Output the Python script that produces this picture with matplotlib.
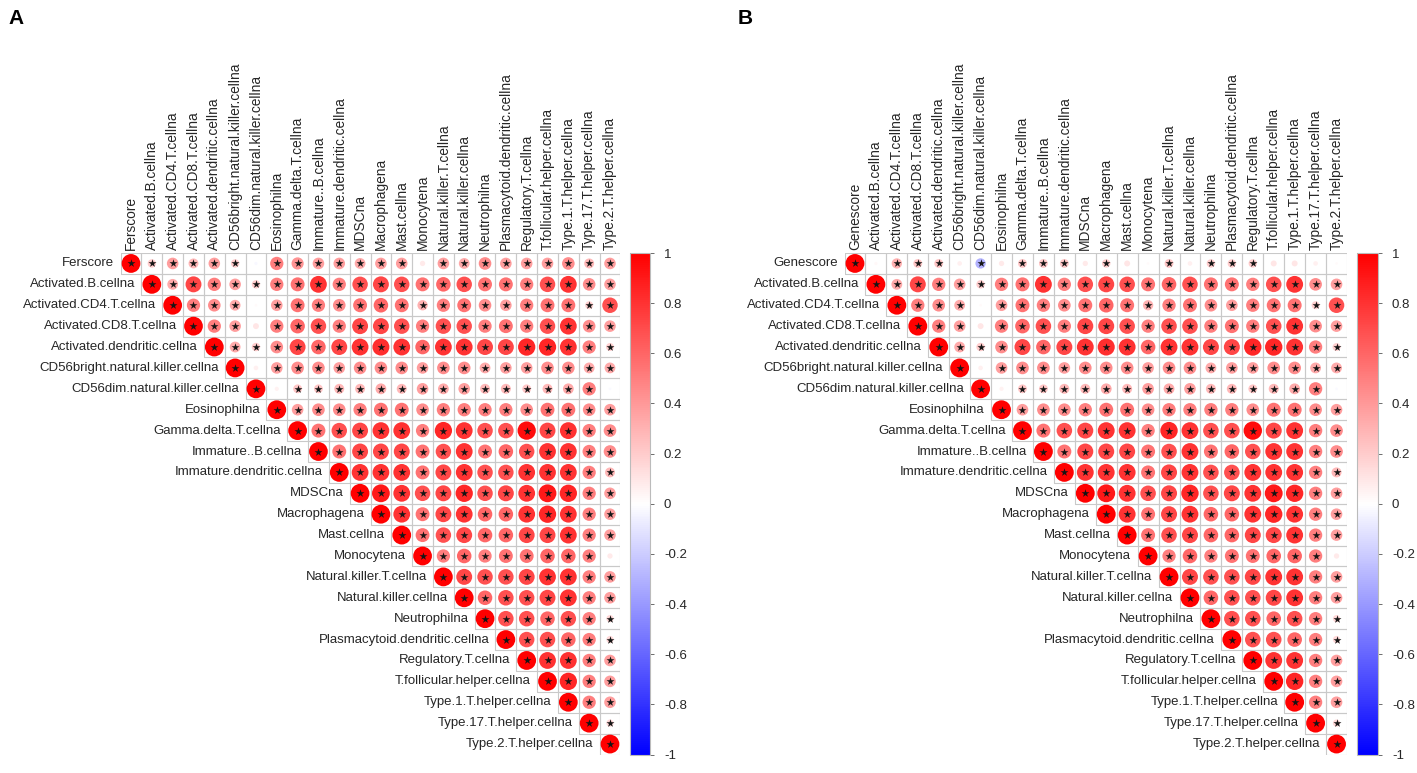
import numpy as np
import matplotlib
matplotlib.use("Agg")
import matplotlib.pyplot as plt
from matplotlib.colors import LinearSegmentedColormap, Normalize
from matplotlib.patches import Circle, Rectangle
from matplotlib.collections import PatchCollection
from matplotlib.cm import ScalarMappable

plt.rcParams['font.family'] = ['Liberation Sans', 'DejaVu Sans']

# variable names (first one is the score, differs per panel)
cells = ["Activated.B.cellna", "Activated.CD4.T.cellna", "Activated.CD8.T.cellna",
         "Activated.dendritic.cellna", "CD56bright.natural.killer.cellna",
         "CD56dim.natural.killer.cellna", "Eosinophilna", "Gamma.delta.T.cellna",
         "Immature..B.cellna", "Immature.dendritic.cellna", "MDSCna", "Macrophagena",
         "Mast.cellna", "Monocytena", "Natural.killer.T.cellna", "Natural.killer.cellna",
         "Neutrophilna", "Plasmacytoid.dendritic.cellna", "Regulatory.T.cellna",
         "T.follicular.helper.cellna", "Type.1.T.helper.cellna", "Type.17.T.helper.cellna",
         "Type.2.T.helper.cellna"]

# correlation of the score with each cell type
ferscore = [0.2, 0.38, 0.28, 0.38, 0.2, -0.03, 0.5, 0.42, 0.38, 0.38, 0.33, 0.38,
            0.38, 0.08, 0.38, 0.33, 0.45, 0.38, 0.38, 0.38, 0.45, 0.28, 0.38]
genescore = [0.03, 0.3, 0.22, 0.22, 0.06, -0.3, 0.08, 0.22, 0.22, 0.22, 0.08, 0.2,
             0.1, 0.02, 0.22, 0.06, 0.2, 0.2, 0.2, 0.1, 0.1, 0.06, 0.02]

# upper triangle of the cell-cell correlations, row i -> columns i+1..end
cell_upper = [
    [0.33, 0.72, 0.5, 0.38, 0.2, 0.5, 0.55, 0.8, 0.5, 0.68, 0.72, 0.68, 0.55, 0.6, 0.68, 0.55, 0.55, 0.5, 0.68, 0.8, 0.45, 0.38],
    [0.5, 0.45, 0.33, 0.02, 0.38, 0.55, 0.5, 0.45, 0.55, 0.6, 0.55, 0.3, 0.5, 0.55, 0.45, 0.38, 0.5, 0.55, 0.55, 0.18, 0.68],
    [0.5, 0.38, 0.1, 0.5, 0.6, 0.68, 0.5, 0.72, 0.72, 0.68, 0.5, 0.68, 0.68, 0.5, 0.55, 0.5, 0.68, 0.8, 0.45, 0.38],
    [0.33, 0.2, 0.45, 0.72, 0.6, 0.72, 0.8, 0.82, 0.8, 0.6, 0.8, 0.8, 0.72, 0.72, 0.85, 0.85, 0.8, 0.5, 0.18],
    [0.06, 0.38, 0.45, 0.45, 0.38, 0.45, 0.45, 0.45, 0.38, 0.45, 0.45, 0.33, 0.38, 0.38, 0.45, 0.45, 0.33, 0.33],
    [0.05, 0.22, 0.22, 0.28, 0.28, 0.33, 0.28, 0.38, 0.33, 0.38, 0.28, 0.28, 0.22, 0.28, 0.33, 0.5, -0.02],
    [0.38, 0.45, 0.45, 0.5, 0.55, 0.55, 0.45, 0.5, 0.5, 0.5, 0.5, 0.45, 0.55, 0.55, 0.45, 0.38],
    [0.55, 0.68, 0.72, 0.8, 0.8, 0.5, 0.85, 0.8, 0.68, 0.68, 0.95, 0.72, 0.8, 0.5, 0.45],
    [0.55, 0.72, 0.72, 0.72, 0.55, 0.68, 0.8, 0.55, 0.6, 0.68, 0.8, 0.8, 0.5, 0.45],
    [0.8, 0.8, 0.8, 0.55, 0.72, 0.8, 0.68, 0.68, 0.8, 0.8, 0.8, 0.5, 0.28],
    [0.9, 0.8, 0.68, 0.72, 0.85, 0.68, 0.72, 0.8, 0.9, 0.85, 0.5, 0.38],
    [0.8, 0.55, 0.72, 0.8, 0.6, 0.6, 0.8, 0.85, 0.8, 0.5, 0.38],
    [0.55, 0.68, 0.72, 0.6, 0.6, 0.72, 0.72, 0.8, 0.5, 0.38],
    [0.5, 0.6, 0.5, 0.55, 0.55, 0.6, 0.6, 0.5, 0.08],
    [0.72, 0.68, 0.68, 0.72, 0.8, 0.8, 0.5, 0.38],
    [0.6, 0.68, 0.68, 0.72, 0.8, 0.5, 0.38],
    [0.68, 0.68, 0.6, 0.68, 0.5, 0.15],
    [0.68, 0.68, 0.6, 0.5, 0.15],
    [0.8, 0.8, 0.5, 0.38],
    [0.85, 0.5, 0.38],
    [0.5, 0.38],
    [0.15],
]

cbar_ticks = [1, 0.8, 0.6, 0.4, 0.2, 0, -0.2, -0.4, -0.6, -0.8, -1]

cmap = LinearSegmentedColormap.from_list("bwr_cp", ["#0000FF", "#FFFFFF", "#FF0000"])
norm = Normalize(-1, 1)

W, H = 1417, 773
fig = plt.figure(figsize=(W / 100, H / 100), dpi=100)


def px_axes(x0, y0, x1, y1):
    return fig.add_axes([x0 / W, 1 - y1 / H, (x1 - x0) / W, (y1 - y0) / H])


def build_matrix(score):
    n = len(cells) + 1
    m = np.eye(n)
    m[0, 1:] = score
    for i, row in enumerate(cell_upper):
        m[i + 1, i + 2:] = row
    return m


def corr_panel(ax, names, mat):
    n = len(names)
    ax.set_xlim(-0.5, n - 0.5)
    ax.set_ylim(n - 0.5, -0.5)
    ax.axis('off')
    circles, cols, grid = [], [], []
    sx, sy = [], []
    for i in range(n):
        for j in range(i, n):
            r = mat[i, j]
            grid.append(Rectangle((j - 0.5, i - 0.5), 1, 1))
            circles.append(Circle((j, i), 0.45 * np.sqrt(abs(r))))
            cols.append(cmap(norm(r)))
            if abs(r) > 0.12:
                sx.append(j)
                sy.append(i)
    ax.add_collection(PatchCollection(grid, facecolor='none', edgecolor='#c9c9c9', lw=0.8))
    ax.add_collection(PatchCollection(circles, facecolor=cols, edgecolor='none'))
    ax.scatter(sx, sy, marker='*', s=36, c='#151515', lw=0, zorder=3)
    for i, name in enumerate(names):
        ax.text(i - 0.8, i, name, ha='right', va='center', fontsize=9.5, color='#262626')
        ax.text(i, -0.65, name, ha='center', va='bottom', rotation=90, fontsize=9.9,
                color='#262626')


def color_bar(cax):
    cb = fig.colorbar(ScalarMappable(norm=norm, cmap=cmap), cax=cax, ticks=cbar_ticks)
    cb.ax.set_yticklabels(['%g' % t for t in cbar_ticks])
    cb.ax.tick_params(labelsize=9.5, length=3, width=0.6, color='#555555', pad=7,
                      labelcolor='#262626')
    cb.outline.set_edgecolor('#bbbbbb')
    cb.outline.set_linewidth(0.8)


axA = px_axes(120.6, 253, 620.4, 754.5)
corr_panel(axA, ["Ferscore"] + cells, build_matrix(ferscore))
color_bar(px_axes(630, 253, 650, 754.5))

axB = px_axes(844.5, 253, 1347, 754.5)
corr_panel(axB, ["Genescore"] + cells, build_matrix(genescore))
color_bar(px_axes(1357, 253, 1378, 754.5))

fig.text(8 / W, 1 - 19 / H, "A", fontsize=15, fontweight='bold', va='center', ha='left')
fig.text(738 / W, 1 - 19 / H, "B", fontsize=15, fontweight='bold', va='center', ha='left')

fig.savefig("out.png", dpi=100)
